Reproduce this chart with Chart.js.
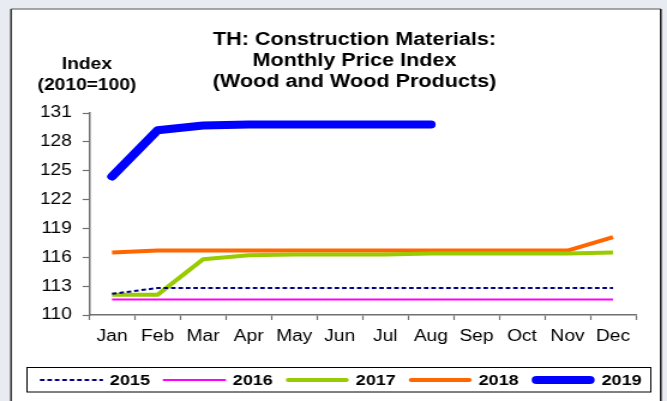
<!DOCTYPE html>
<html>
<head>
<meta charset="utf-8">
<script src="https://cdn.jsdelivr.net/npm/chart.js@4.4.1/dist/chart.umd.min.js"></script>
<style>
  html, body { margin: 0; padding: 0; background: #e8ebf1; overflow: hidden; }
  #wrap { width: 556px; height: 401px; transform: scaleX(1.19964); transform-origin: 0 0; }
  canvas { display: block; }
</style>
</head>
<body>
<div id="wrap"><canvas id="graficaMadera" width="556" height="401"></canvas></div>
<script>
// Datos (índice 2010=100)
const meses = ['Jan', 'Feb', 'Mar', 'Apr', 'May', 'Jun', 'Jul', 'Aug', 'Sep', 'Oct', 'Nov', 'Dec'];
const serie2015 = [112.2, 112.8, 112.8, 112.8, 112.8, 112.8, 112.8, 112.8, 112.8, 112.8, 112.8, 112.8];
const serie2016 = [111.6, 111.6, 111.6, 111.6, 111.6, 111.6, 111.6, 111.6, 111.6, 111.6, 111.6, 111.6];
const serie2017 = [112.1, 112.1, 115.8, 116.2, 116.3, 116.3, 116.3, 116.4, 116.4, 116.4, 116.4, 116.5];
const serie2018 = [116.5, 116.7, 116.7, 116.7, 116.7, 116.7, 116.7, 116.7, 116.7, 116.7, 116.7, 118.1];
const serie2019 = [124.4, 129.2, 129.7, 129.8, 129.8, 129.8, 129.8, 129.8, null, null, null, null];
const ticksY = [110, 113, 116, 119, 122, 125, 128, 131];

const titulo = ['TH: Construction Materials:', 'Monthly Price Index', '(Wood and Wood Products)'];
const etiquetaEje = ['Index', '(2010=100)'];

const FUENTE = "'Liberation Sans', Arial, sans-serif";

// Marco blanco, títulos y leyenda dibujados a mano
const marcoYTextos = {
    id: 'marcoYTextos',
    beforeDraw(chart) {
        const ctx = chart.ctx;
        ctx.save();
        ctx.fillStyle = '#e8ebf1';
        ctx.fillRect(0, 0, chart.width, chart.height);
        ctx.fillStyle = '#ffffff';
        ctx.fillRect(9.2, 9, 541.6, chart.height);
        ctx.lineWidth = 1.5;
        ctx.strokeStyle = '#8a8a8a';
        ctx.beginPath(); ctx.moveTo(9.2, 9); ctx.lineTo(550.8, 9); ctx.stroke();
        ctx.strokeStyle = '#333333';
        ctx.beginPath(); ctx.moveTo(9.2, 9); ctx.lineTo(9.2, chart.height); ctx.stroke();
        ctx.strokeStyle = '#111111';
        ctx.beginPath(); ctx.moveTo(550.8, 9); ctx.lineTo(550.8, chart.height); ctx.stroke();
        ctx.restore();
    },
    afterDraw(chart) {
        const ctx = chart.ctx;
        ctx.save();
        ctx.fillStyle = '#000000';
        ctx.textAlign = 'center';
        ctx.textBaseline = 'alphabetic';
        ctx.font = 'bold 18px ' + FUENTE;
        [45, 65.7, 86.7].forEach((y, i) => ctx.fillText(titulo[i], 295.5, y));
        ctx.font = 'bold 16px ' + FUENTE;
        ctx.fillText(etiquetaEje[0], 72.5, 69);
        ctx.fillText(etiquetaEje[1], 72.5, 89.5);

        // leyenda con recuadro
        ctx.font = 'bold 15px ' + FUENTE;
        ctx.lineWidth = 1;
        ctx.strokeStyle = '#000000';
        ctx.strokeRect(22.5, 367.5, 520, 24.5);
        let x = 33.3;
        const yc = 380;
        ctx.textAlign = 'left';
        ctx.textBaseline = 'middle';
        chart.data.datasets.forEach(ds => {
            ctx.save();
            ctx.strokeStyle = ds.borderColor;
            ctx.lineWidth = ds.borderWidth;
            ctx.lineCap = ds.borderWidth > 3 ? 'round' : 'butt';
            ctx.setLineDash(ds.borderDash || []);
            const pad = ds.borderWidth > 3 ? ds.borderWidth / 2 : 0;
            ctx.beginPath();
            ctx.moveTo(x + pad, yc);
            ctx.lineTo(x + 52.5 - pad, yc);
            ctx.stroke();
            ctx.restore();
            x += 52.5 + 5.8;
            ctx.fillText(ds.label, x, yc + 1);
            x += ctx.measureText(ds.label).width + 10.8;
        });
        ctx.restore();
    }
};

const ctx = document.getElementById('graficaMadera').getContext('2d');

new Chart(ctx, {
    type: 'line',
    data: {
        labels: meses,
        datasets: [
            { label: '2015', data: serie2015, borderColor: '#000080', borderWidth: 2, borderDash: [3.8, 2.4] },
            { label: '2016', data: serie2016, borderColor: '#ff00ff', borderWidth: 2 },
            { label: '2017', data: serie2017, borderColor: '#99cc00', borderWidth: 4 },
            { label: '2018', data: serie2018, borderColor: '#ff6600', borderWidth: 4 },
            { label: '2019', data: serie2019, borderColor: '#0000ff', borderWidth: 8, borderCapStyle: 'round' }
        ]
    },
    options: {
        responsive: false,
        animation: false,
        devicePixelRatio: 1,
        layout: { padding: { left: 34.4, right: 26, top: 113, bottom: 46 } },
        elements: {
            line: { tension: 0, borderJoinStyle: 'round', fill: false },
            point: { radius: 0, hoverRadius: 0 }
        },
        plugins: {
            legend: { display: false },
            title: { display: false },
            tooltip: { enabled: false }
        },
        scales: {
            x: {
                offset: true,
                afterFit: (s) => { s.height = 40; },
                grid: { offset: true, drawOnChartArea: false, tickLength: 5, tickColor: '#707070', tickWidth: 1.2 },
                border: { color: '#707070', width: 1.5 },
                ticks: { color: '#000000', font: { family: FUENTE, size: 16 }, padding: 7, maxRotation: 0, autoSkip: false }
            },
            y: {
                min: 110,
                max: 131,
                afterFit: (s) => { s.width = 40; },
                afterBuildTicks: (s) => { s.ticks = ticksY.map(v => ({ value: v })); },
                grid: { drawOnChartArea: false, tickLength: 5.5, tickColor: '#707070', tickWidth: 1.2 },
                border: { color: '#707070', width: 1.5 },
                ticks: { color: '#000000', font: { family: FUENTE, size: 16 }, padding: 9 }
            }
        }
    },
    plugins: [marcoYTextos]
});
</script>
</body>
</html>
